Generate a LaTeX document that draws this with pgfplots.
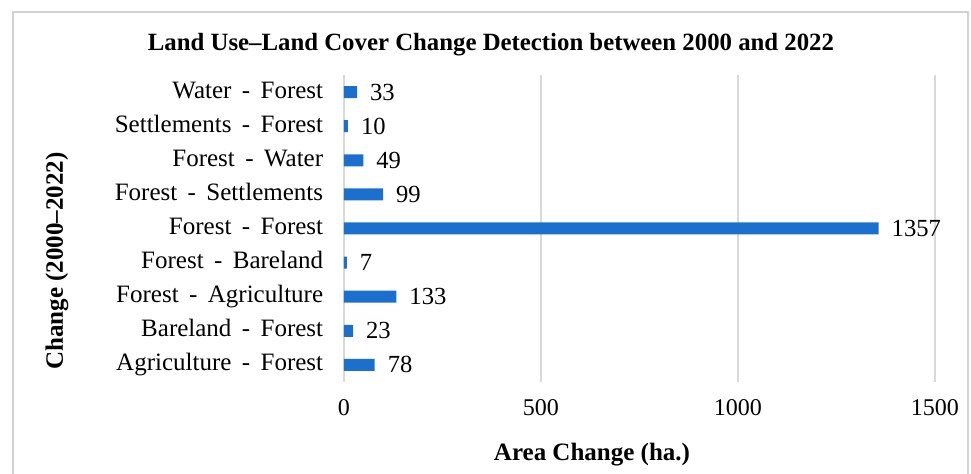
\documentclass[border=0pt]{standalone}
\usepackage{fontspec}
\setmainfont{Liberation Serif}
\usepackage{pgfplots}
\pgfplotsset{compat=1.18}
\definecolor{barblue}{HTML}{1B6FCD}
\begin{document}
\begin{tikzpicture}
\useasboundingbox (0pt,0pt) rectangle (485.5pt,237pt);
\begin{scope}
\clip (0pt,0pt) rectangle (485.5pt,237pt);
\draw[gray!35, line width=1pt] (6.5pt,-10pt) rectangle (484pt,231pt);
\end{scope}
\begin{axis}[at={(172pt,46pt)}, anchor=south west, scale only axis,
  width=295.5pt, height=153.5pt,
  xbar, bar width=6pt,
  xmin=0, xmax=1500, ymin=-0.5, ymax=8.5,
  axis line style={draw=none},
  major tick length=0pt,
  xtick={0,500,1000,1500},
  ytick={0,1,2,3,4,5,6,7,8},
  yticklabels={Agriculture\ \,-\ \,Forest, Bareland\ \,-\ \,Forest, Forest\ \,-\ \,Agriculture, Forest\ \,-\ \,Bareland, Forest\ \,-\ \,Forest, Forest\ \,-\ \,Settlements, Forest\ \,-\ \,Water, Settlements\ \,-\ \,Forest, Water\ \,-\ \,Forest},
  xmajorgrids, grid style={gray!30, line width=1pt},
  /pgf/number format/assume math mode=true,
  /pgf/number format/set thousands separator={},
  xticklabel style={font=\fontsize{12}{14}\selectfont, yshift=-5pt},
  yticklabel style={font=\fontsize{12.5}{14}\selectfont, xshift=-6.9pt, text height=1.6ex, text depth=0.3ex},
  nodes near coords,
  nodes near coords style={font=\fontsize{12.3}{14}\selectfont, anchor=west, xshift=3pt, /pgf/number format/assume math mode=true},
  clip=false,
]
\addplot[fill=barblue, draw=none] coordinates {
  (78,0) (23,1) (133,2) (7,3) (1357,4) (99,5) (49,6) (10,7) (33,8)
};
\end{axis}
\node[font=\bfseries\fontsize{12.4}{14}\selectfont] at (245.5pt,214.5pt) {Land Use–Land Cover Change Detection between 2000 and 2022};
\node[font=\bfseries\fontsize{12.5}{14}\selectfont] at (296pt,9.5pt) {Area Change (ha.)};
\node[font=\bfseries\fontsize{12.5}{14}\selectfont, rotate=90] at (28.5pt,106.5pt) {Change (2000–2022)};
\end{tikzpicture}
\end{document}
